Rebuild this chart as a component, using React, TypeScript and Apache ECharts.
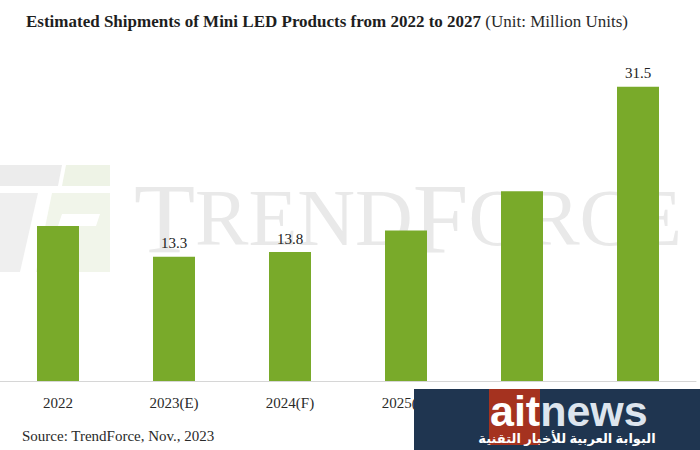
import React, { useEffect, useRef } from "react";
import * as echarts from "echarts";

const categories = ["2022", "2023(E)", "2024(F)", "2025(F)", "2026(F)", "2027(F)"];
const shipments = [16.6, 13.3, 13.8, 16.1, 20.3, 31.5];
const showLabel = [false, true, true, false, false, true];
const titleBold = "Estimated Shipments of Mini LED Products from 2022 to 2027";
const titleUnit = " (Unit: Million Units)";
const sourceText = "Source: TrendForce, Nov., 2023";

const SERIF = "'Liberation Serif', 'Times New Roman', serif";
const SANS = "'Liberation Sans', Arial, sans-serif";

export default function App() {
  const ref = useRef<HTMLDivElement>(null);
  useEffect(() => {
    if (!ref.current) return;
    const chart = echarts.init(ref.current, null, { renderer: "svg" });
    chart.setOption({
      animation: false,
      backgroundColor: "#ffffff",
      title: {
        text: `{b|${titleBold}}{n|${titleUnit}}`,
        left: 21,
        top: 8,
        textStyle: {
          fontWeight: "normal",
          rich: {
            b: { fontFamily: SERIF, fontSize: 17, fontWeight: "bold", color: "#1e1e1e" },
            n: { fontFamily: SERIF, fontSize: 17, fontWeight: "normal", color: "#2a2a2a" },
          },
        },
      },
      grid: { left: 0, right: 4, top: 54, bottom: 69, containLabel: false },
      xAxis: {
        type: "category",
        data: categories,
        axisLine: { lineStyle: { color: "#d6d6d6", width: 1 } },
        axisTick: { show: false },
        axisLabel: { fontFamily: SERIF, fontSize: 15, color: "#2a2a2a", margin: 14 },
      },
      yAxis: { type: "value", min: 0, max: 35, show: false, splitLine: { show: false } },
      graphic: [
        // TrendForce watermark logo
        {
          type: "polygon",
          z: -10,
          shape: { points: [[0, 165], [62, 165], [58, 186], [0, 186]] },
          style: { fill: "#ececec" },
        },
        {
          type: "polygon",
          z: -10,
          shape: { points: [[66, 165], [110, 165], [110, 186], [62, 186]] },
          style: { fill: "#eef3e6" },
        },
        {
          type: "polygon",
          z: -10,
          shape: { points: [[0, 193], [38, 193], [20, 272], [0, 272]] },
          style: { fill: "#efefef" },
        },
        {
          type: "polygon",
          z: -10,
          shape: { points: [[52, 193], [110, 193], [110, 272], [36, 272]] },
          style: { fill: "#f1f5ea" },
        },
        {
          type: "polygon",
          z: -9,
          shape: { points: [[62, 214], [100, 214], [96, 226], [58, 226]] },
          style: { fill: "#ffffff" },
        },
        {
          type: "text",
          z: -10,
          x: 134,
          y: 268,
          style: {
            text: "{a|T}{b|REND}{a|F}{b|ORCE}",
            textVerticalAlign: "bottom",
            fill: "#e9e9e9",
            rich: {
              a: { fontFamily: SERIF, fontSize: 100, fill: "#e9e9e9" },
              b: { fontFamily: SERIF, fontSize: 80, fill: "#e9e9e9" },
            },
          },
        },
        {
          type: "text",
          left: 22,
          top: 428,
          style: { text: sourceText, font: `15px ${SERIF}`, fill: "#2a2a2a" },
        },
        // aitnews watermark box
        {
          type: "rect",
          z: 100,
          shape: { x: 414, y: 389, width: 286, height: 61 },
          style: { fill: "#1f3550" },
        },
        {
          type: "rect",
          z: 101,
          shape: { x: 489, y: 389, width: 51, height: 56 },
          style: { fill: "#a5321f" },
        },
        {
          type: "text",
          z: 102,
          x: 490,
          y: 432,
          style: {
            text: "{w|ait}{g|news}",
            textVerticalAlign: "bottom",
            rich: {
              w: { fontFamily: SANS, fontSize: 43, fontWeight: "bold", fill: "#ffffff" },
              g: { fontFamily: SANS, fontSize: 43, fontWeight: "bold", fill: "#dde5ee" },
            },
          },
        },
        {
          type: "text",
          z: 102,
          x: 567,
          y: 438,
          style: {
            text: "البوابة العربية للأخبار التقنية",
            font: "bold 13px 'Noto Sans', 'DejaVu Sans', sans-serif",
            fill: "#ffffff",
            textAlign: "center",
            textVerticalAlign: "middle",
          },
        },
      ],
      series: [
        {
          type: "bar",
          barWidth: 42,
          data: shipments.map((v, i) => ({
            value: v,
            label: { show: showLabel[i] },
          })),
          itemStyle: { color: "#79aa2a" },
          label: {
            position: "top",
            distance: 6,
            fontFamily: SERIF,
            fontSize: 15,
            color: "#222222",
          },
        },
      ],
    });
    return () => chart.dispose();
  }, []);
  return <div ref={ref} style={{ width: 700, height: 450, position: "absolute", left: 0, top: 0 }} />;
}
